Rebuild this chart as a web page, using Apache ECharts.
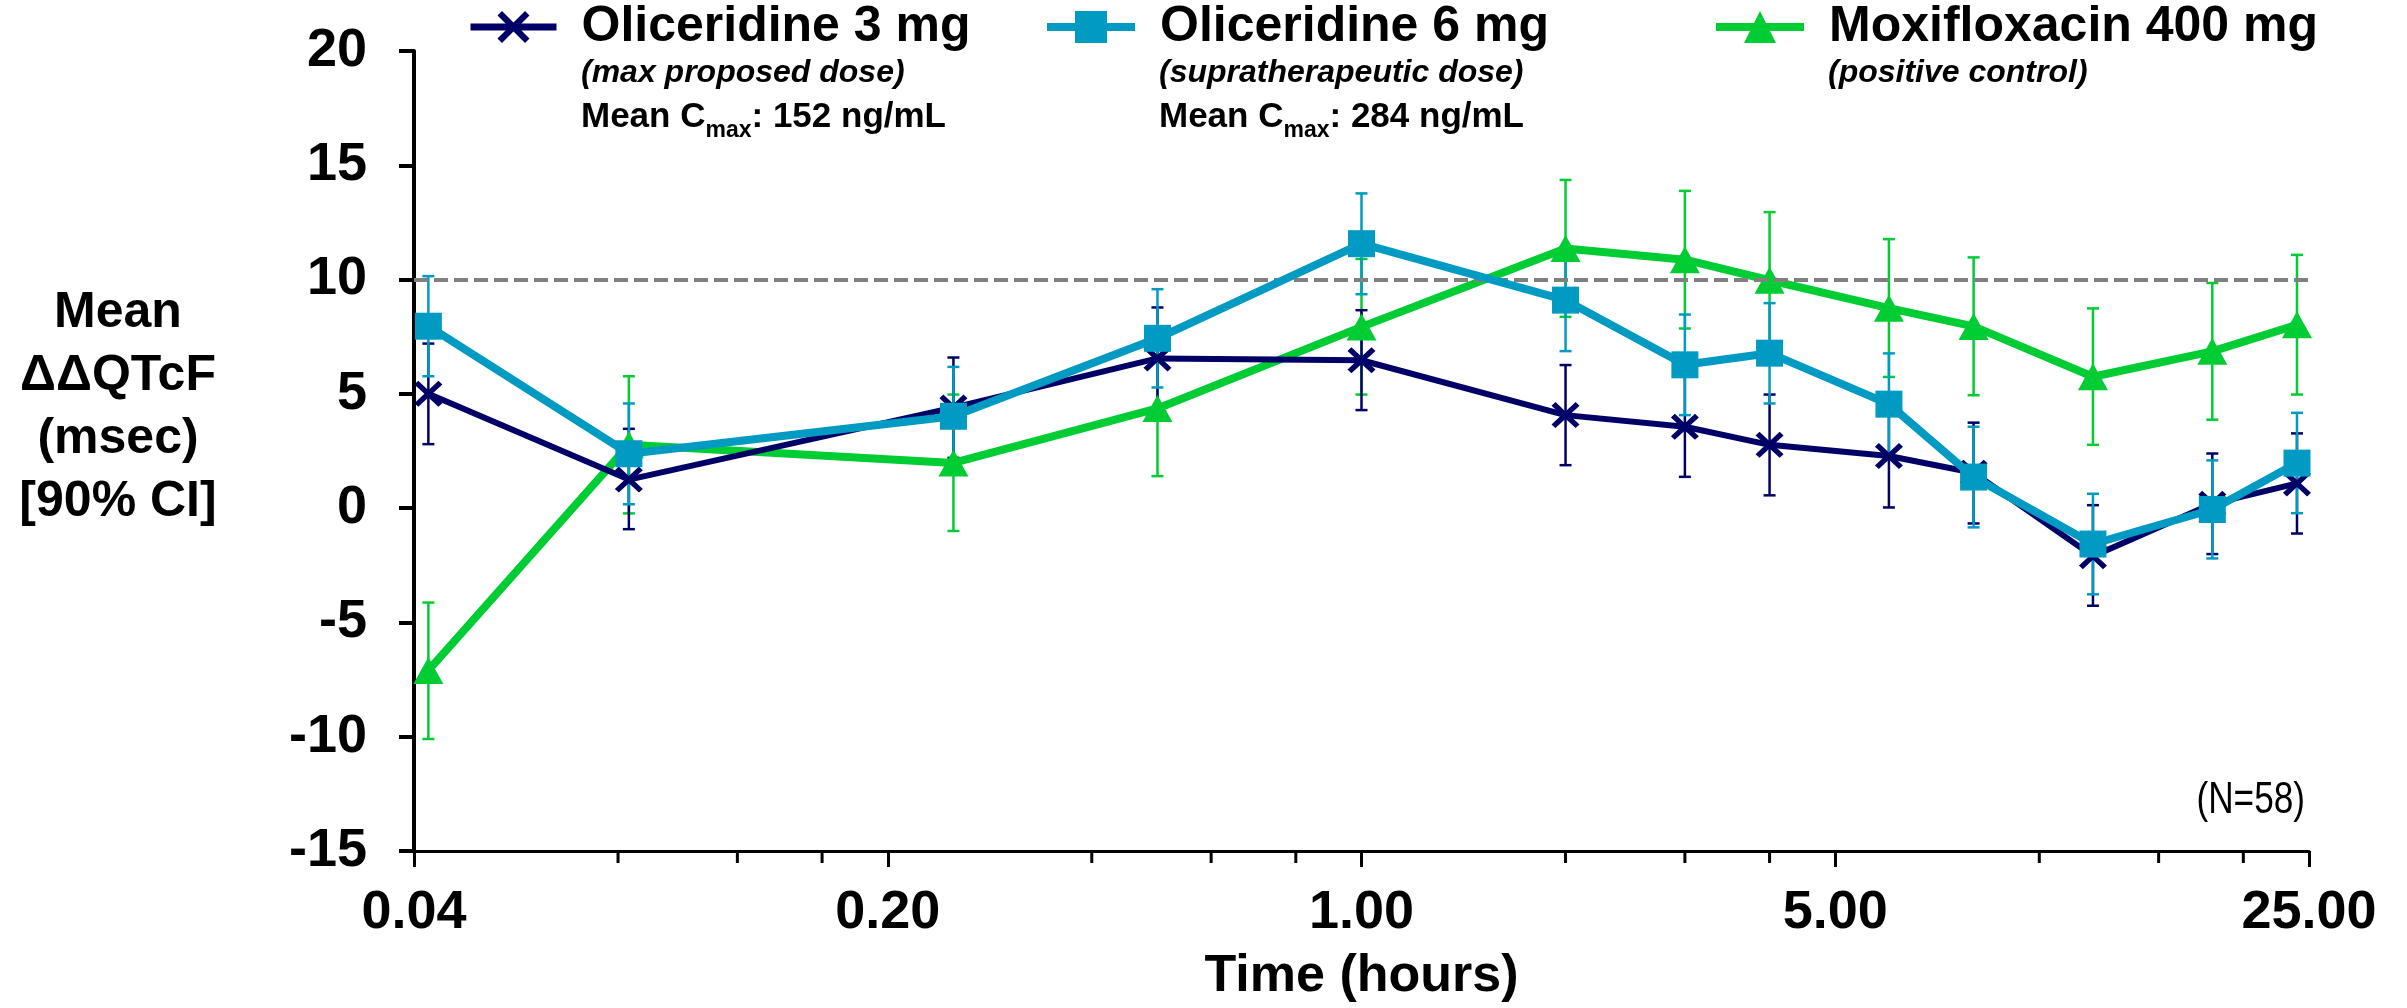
<!DOCTYPE html>
<html>
<head>
<meta charset="utf-8">
<title>Mean ΔΔQTcF over time</title>
<script src="https://cdn.jsdelivr.net/npm/echarts@6/dist/echarts.min.js"></script>
<style>
  html, body { margin: 0; padding: 0; background: #ffffff; }
  #chart { width: 2407px; height: 1008px; }
</style>
</head>
<body>
<div id="chart"></div>
<script>
// Sampling times (hours after dosing)
const times = [0.042, 0.083, 0.25, 0.5, 1, 2, 3, 4, 6, 8, 12, 18, 24];

// Oliceridine 3 mg: mean ΔΔQTcF (msec) with 90% CI bounds
const oli3Mean  = [5.0, 1.25, 4.4, 6.55, 6.47, 4.07, 3.56, 2.77, 2.28, 1.55, -2.1, 0.19, 1.08];
const oli3Lower = [2.8, -0.92, 2.2, 4.3, 4.29, 1.88, 1.37, 0.56, 0.03, -0.67, -4.27, -2.01, -1.11];
const oli3Upper = [7.2, 3.47, 6.59, 8.78, 8.66, 6.26, 5.76, 4.97, 4.5, 3.74, 0.13, 2.39, 3.27];

// Oliceridine 6 mg
const oli6Mean  = [7.96, 2.38, 4.02, 7.43, 11.57, 9.1, 6.27, 6.78, 4.55, 1.36, -1.57, -0.06, 1.97];
const oli6Lower = [5.77, 0.17, 1.86, 5.28, 9.36, 6.87, 4.07, 4.58, 2.35, -0.84, -3.77, -2.2, -0.22];
const oli6Upper = [10.15, 4.58, 6.18, 9.58, 13.77, 11.33, 8.47, 8.97, 6.77, 3.56, 0.63, 2.09, 4.17];

// Moxifloxacin 400 mg
const moxiMean  = [-7.1, 2.77, 1.98, 4.36, 7.93, 11.36, 10.87, 9.97, 8.75, 7.95, 5.75, 6.86, 8.02];
const moxiLower = [-10.1, -0.23, -1.0, 1.4, 4.97, 8.37, 7.86, 6.99, 5.74, 4.94, 2.77, 3.87, 4.97];
const moxiUpper = [-4.13, 5.77, 4.97, 7.3, 10.9, 14.36, 13.88, 12.95, 11.77, 10.97, 8.74, 9.85, 11.08];

// Axis ticks
const xMinorTicks = [0.08, 0.12, 0.16, 0.4, 0.6, 0.8, 2, 3, 4, 10, 15, 20];
const xMin = 0.04, xMax = 25;
const yMin = -15, yMax = 20, yStep = 5;
const thresholdMs = 10;

// Texts
const seriesNames = ['Oliceridine 3 mg', 'Oliceridine 6 mg', 'Moxifloxacin 400 mg'];
const doseNotes = ['(max proposed dose)', '(supratherapeutic dose)', '(positive control)'];
const cmaxValues = ['152 ng/mL', '284 ng/mL'];
const yTitle = 'Mean\nΔΔQTcF\n(msec)\n[90% CI]';
const xTitle = 'Time (hours)';
const sampleNote = '(N=58)';

const FONT = '"Liberation Sans", Arial, Helvetica, sans-serif';
const NAVY = '#000066', CYAN = '#009AC3', GREEN = '#00CC33';

// filled "X" marker
const X_MARK = 'path://M0,14L14,0L50,36L86,0L100,14L64,50L100,86L86,100L50,64L14,100L0,86L36,50Z';

function pairs(ys) { return times.map((t, i) => [t, ys[i]]); }

function errorBars(color, lower, upper, z) {
  return {
    type: 'custom',
    silent: true,
    clip: false,
    z: z,
    data: times.map((t, i) => [t, lower[i], upper[i]]),
    encode: { x: 0, y: [1, 2] },
    renderItem(params, api) {
      const lo = api.coord([api.value(0), api.value(1)]);
      const hi = api.coord([api.value(0), api.value(2)]);
      const hw = 6;
      const style = { stroke: color, lineWidth: 2.5, fill: null };
      return {
        type: 'group',
        children: [
          { type: 'line', shape: { x1: lo[0], y1: lo[1], x2: hi[0], y2: hi[1] }, style },
          { type: 'line', shape: { x1: lo[0] - hw, y1: lo[1], x2: lo[0] + hw, y2: lo[1] }, style },
          { type: 'line', shape: { x1: hi[0] - hw, y1: hi[1], x2: hi[0] + hw, y2: hi[1] }, style }
        ]
      };
    }
  };
}

function legendFor(name, left, iconW, lineW) {
  return {
    data: [{ name }],
    left: left,
    top: 2,
    padding: 0,
    orient: 'horizontal',
    selectedMode: false,
    itemWidth: iconW,
    itemHeight: 40,
    lineStyle: { width: lineW },
    textStyle: {
      fontFamily: FONT, fontSize: 50, fontWeight: 'bold', color: '#000',
      padding: [0, 0, 4, 20]
    }
  };
}

function noteText(x, y, text, size) {
  return {
    type: 'text', x: x, y: y, silent: true,
    style: {
      text: text, fill: '#000',
      font: 'italic bold ' + size + 'px ' + FONT,
      verticalAlign: 'middle'
    }
  };
}

function cmaxText(x, y, value) {
  return {
    type: 'text', x: x, y: y, silent: true,
    style: {
      text: '{m|Mean C}{s|max}{m|: ' + value + '}',
      verticalAlign: 'middle',
      rich: {
        m: { fontFamily: FONT, fontSize: 35, fontWeight: 'bold', fill: '#000', color: '#000', lineHeight: 50 },
        s: { fontFamily: FONT, fontSize: 23, fontWeight: 'bold', fill: '#000', color: '#000', lineHeight: 20, verticalAlign: 'bottom' }
      }
    }
  };
}

const chart = echarts.init(document.getElementById('chart'), null, { renderer: 'canvas' });

chart.setOption({
  animation: false,
  backgroundColor: '#ffffff',
  grid: { left: 414, right: 98, top: 51, bottom: 157 },
  legend: [
    legendFor(seriesNames[0], 467, 86, 7),
    legendFor(seriesNames[1], 1043, 88, 8),
    legendFor(seriesNames[2], 1712, 88, 8)
  ],
  xAxis: {
    type: 'log',
    logBase: 5,
    min: xMin,
    max: xMax,
    axisLine: { onZero: false, lineStyle: { color: '#000', width: 3 } },
    axisTick: { show: true, length: 16, lineStyle: { color: '#000', width: 3 } },
    axisLabel: {
      fontFamily: FONT, fontSize: 54, fontWeight: 'bold', color: '#000', margin: 35,
      formatter: v => Number(v).toFixed(2)
    },
    splitLine: { show: false },
    minorTick: { show: false },
    name: xTitle,
    nameLocation: 'middle',
    nameGap: 100,
    nameTextStyle: { fontFamily: FONT, fontSize: 52, fontWeight: 'bold', color: '#000', lineHeight: 52 }
  },
  yAxis: {
    type: 'value',
    min: yMin,
    max: yMax,
    interval: yStep,
    axisLine: { show: true, lineStyle: { color: '#000', width: 4 } },
    axisTick: { show: true, length: 15, lineStyle: { color: '#000', width: 4 } },
    axisLabel: { fontFamily: FONT, fontSize: 54, fontWeight: 'bold', color: '#000', margin: 47 },
    splitLine: { show: false }
  },
  graphic: [
    // vertical axis title
    {
      type: 'text', x: 118, y: 408, silent: true,
      style: {
        text: yTitle, fill: '#000', font: 'bold 50px ' + FONT,
        lineHeight: 63, align: 'center', verticalAlign: 'middle'
      }
    },
    noteText(581, 73, doseNotes[0], 32),
    cmaxText(581, 117, cmaxValues[0]),
    noteText(1159, 73, doseNotes[1], 32),
    cmaxText(1159, 117, cmaxValues[1]),
    noteText(1828, 73, doseNotes[2], 32),
    // sample size note, set in a condensed width
    {
      type: 'text', x: 2305, y: 801, scaleX: 0.8, silent: true,
      style: { text: sampleNote, fill: '#000', font: '44px ' + FONT, align: 'right', verticalAlign: 'middle' }
    }
  ],
  series: [
    {
      name: seriesNames[0], type: 'line', data: pairs(oli3Mean),
      symbol: X_MARK, symbolSize: [28, 26],
      lineStyle: { color: NAVY, width: 6 },
      itemStyle: { color: NAVY },
      z: 4
    },
    {
      name: seriesNames[1], type: 'line', data: pairs(oli6Mean),
      symbol: 'rect', symbolSize: 27,
      lineStyle: { color: CYAN, width: 8 },
      itemStyle: { color: CYAN },
      z: 5
    },
    {
      name: seriesNames[2], type: 'line', data: pairs(moxiMean),
      symbol: 'triangle', symbolSize: [30, 27],
      lineStyle: { color: GREEN, width: 8 },
      itemStyle: { color: GREEN },
      z: 3
    },
    errorBars(GREEN, moxiLower, moxiUpper, 2),
    errorBars(NAVY, oli3Lower, oli3Upper, 2),
    errorBars(CYAN, oli6Lower, oli6Upper, 2),
    // 10 msec reference line
    {
      type: 'line', data: [], z: 1, silent: true,
      markLine: {
        silent: true, symbol: ['none', 'none'], animation: false,
        label: { show: false },
        lineStyle: { color: '#808080', width: 4, type: [14, 6] },
        data: [{ yAxis: thresholdMs }]
      }
    },
    // minor ticks on the time axis
    {
      type: 'custom', silent: true, clip: false, z: 6,
      data: xMinorTicks.map(t => [t, yMin]),
      encode: { x: 0, y: 1 },
      renderItem(params, api) {
        const p = api.coord([api.value(0), api.value(1)]);
        return {
          type: 'line',
          shape: { x1: p[0], y1: p[1], x2: p[0], y2: p[1] + 12 },
          style: { stroke: '#000', lineWidth: 3 }
        };
      }
    }
  ]
});
</script>
</body>
</html>
